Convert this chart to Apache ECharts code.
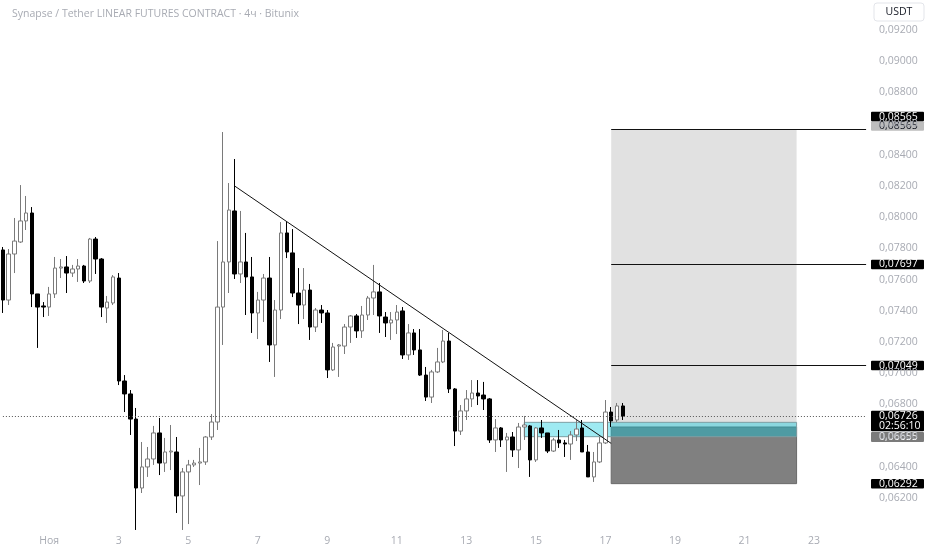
<!DOCTYPE html>
<html>
<head>
<meta charset="utf-8">
<title>SYN/USDT 4h</title>
<script src="https://cdn.jsdelivr.net/npm/echarts@6/dist/echarts.min.js"></script>
<style>
html, body { margin: 0; padding: 0; background: #ffffff; }
#main { width: 932px; height: 550px; }
</style>
</head>
<body>
<div id="main"></div>
<script>
// 4h candles, Oct 30 16:00 .. Nov 17 12:00
var opens = [0.07790,0.07469,0.07764,0.07841,0.07976,0.08027,0.07508,0.07431,0.07424,0.07508,
  0.07674,0.07681,0.07642,0.07668,0.07687,0.07591,0.07860,0.07732,0.07418,0.07450,
  0.07610,0.06950,0.06867,0.06706,0.06264,0.06399,0.06450,0.06617,0.06424,0.06495,
  0.06495,0.06213,0.06367,0.06412,0.06424,0.06431,0.06591,0.06687,0.07424,0.07713,
  0.08040,0.07636,0.07713,0.07617,0.07386,0.07469,0.07610,0.07181,0.07405,0.07899,
  0.07771,0.07514,0.07437,0.07533,0.07296,0.07405,0.07386,0.07021,0.07174,0.07174,
  0.07296,0.07367,0.07271,0.07373,0.07482,0.07521,0.07360,0.07322,0.07341,0.07399,
  0.07117,0.07258,0.07149,0.06988,0.06847,0.07008,0.07072,0.07206,0.06899,0.06629,
  0.06758,0.06835,0.06873,0.06860,0.06835,0.06572,0.06649,0.06572,0.06591,0.06508,
  0.06655,0.06662,0.06444,0.06649,0.06617,0.06501,0.06572,0.06553,0.06546,0.06604,
  0.06649,0.06495,0.06335,0.06431,0.06553,0.06751,0.06700,0.06790];
var closes = [0.07469,0.07764,0.07847,0.07976,0.08027,0.07508,0.07424,0.07424,0.07508,0.07674,
  0.07681,0.07642,0.07668,0.07687,0.07591,0.07860,0.07732,0.07424,0.07456,0.07617,
  0.06950,0.06867,0.06706,0.06264,0.06399,0.06450,0.06617,0.06424,0.06495,0.06501,
  0.06213,0.06367,0.06412,0.06424,0.06431,0.06591,0.06687,0.07424,0.07713,0.08046,
  0.07636,0.07713,0.07617,0.07386,0.07469,0.07610,0.07181,0.07405,0.07899,0.07777,
  0.07514,0.07437,0.07533,0.07296,0.07405,0.07386,0.07021,0.07168,0.07181,0.07296,
  0.07367,0.07271,0.07373,0.07482,0.07521,0.07367,0.07322,0.07341,0.07392,0.07117,
  0.07258,0.07149,0.06988,0.06847,0.07008,0.07072,0.07206,0.06899,0.06629,0.06758,
  0.06835,0.06873,0.06854,0.06835,0.06572,0.06649,0.06572,0.06591,0.06508,0.06655,
  0.06668,0.06444,0.06649,0.06617,0.06501,0.06572,0.06553,0.06546,0.06604,0.06642,
  0.06495,0.06335,0.06431,0.06553,0.06751,0.06694,0.06790,0.06726];
var lows = [0.07386,0.07437,0.07642,0.07835,0.07918,0.07424,0.07162,0.07360,0.07367,0.07482,
  0.07610,0.07514,0.07617,0.07585,0.07578,0.07578,0.07636,0.07360,0.07322,0.07437,
  0.06924,0.06751,0.06604,0.05995,0.06232,0.06335,0.06412,0.06347,0.06367,0.06379,
  0.06104,0.05995,0.06033,0.06399,0.06283,0.06412,0.06572,0.06636,0.07181,0.07514,
  0.07604,0.07578,0.07373,0.07258,0.07219,0.07328,0.07072,0.06976,0.07347,0.07738,
  0.07488,0.07315,0.07347,0.07213,0.07264,0.07322,0.06969,0.07014,0.06976,0.07123,
  0.07194,0.07226,0.07226,0.07341,0.07373,0.07258,0.07232,0.07213,0.07251,0.07091,
  0.07085,0.07117,0.06982,0.06822,0.06809,0.07001,0.07065,0.06873,0.06533,0.06604,
  0.06700,0.06783,0.06796,0.06764,0.06553,0.06495,0.06527,0.06367,0.06463,0.06392,
  0.06572,0.06335,0.06431,0.06585,0.06488,0.06495,0.06521,0.06463,0.06444,0.06565,
  0.06495,0.06335,0.06303,0.06424,0.06546,0.06655,0.06687,0.06700];
var highs = [0.07809,0.07796,0.07995,0.08206,0.08136,0.08065,0.07508,0.07456,0.07553,0.07745,
  0.07732,0.07751,0.07694,0.07732,0.07694,0.07867,0.07873,0.07738,0.07495,0.07629,
  0.07642,0.06988,0.06892,0.06777,0.06559,0.06527,0.06662,0.06713,0.06585,0.06668,
  0.06591,0.06392,0.06444,0.06444,0.06521,0.06597,0.06738,0.07847,0.08546,0.08219,
  0.08373,0.08040,0.07899,0.07745,0.07521,0.07636,0.07745,0.07469,0.07969,0.07969,
  0.07924,0.07674,0.07674,0.07572,0.07418,0.07437,0.07405,0.07194,0.07187,0.07315,
  0.07373,0.07379,0.07431,0.07495,0.07694,0.07578,0.07392,0.07392,0.07437,0.07424,
  0.07315,0.07283,0.07283,0.07040,0.07021,0.07162,0.07277,0.07258,0.06905,0.06796,
  0.06892,0.06956,0.06956,0.06944,0.06841,0.06706,0.06655,0.06617,0.06623,0.06681,
  0.06726,0.06668,0.06655,0.06700,0.06617,0.06585,0.06636,0.06572,0.06629,0.06700,
  0.06700,0.06540,0.06495,0.06591,0.06828,0.06783,0.06809,0.06809];

// position levels
var lastPrice = 0.06726;
var entryPrice = 0.06655;
var stopPrice = 0.06292;
var targets = [0.07049, 0.07697, 0.08565];
var zoneTop = 0.06685, zoneBottom = 0.06593;
var trendStart = [40, 0.0820], trendEnd = [105, 0.0655];

var tickDays = ['1.11 0', '3.11 0', '5.11 0', '7.11 0', '9.11 0', '11.11 0', '13.11 0',
  '15.11 0', '17.11 0', '19.11 0', '21.11 0', '23.11 0'];
var tickText = ['Ноя', '3', '5', '7', '9', '11', '13', '15', '17', '19', '21', '23'];

var categories = [];
var t0 = Date.UTC(2024, 9, 30, 16);
for (var i = 0; i < 150; i++) {
  var d = new Date(t0 + i * 4 * 3600 * 1000);
  categories.push(d.getUTCDate() + '.' + (d.getUTCMonth() + 1) + ' ' + d.getUTCHours());
}

var candles = [];
for (var k = 0; k < opens.length; k++) {
  candles.push([opens[k], closes[k], lows[k], highs[k]]);
}

var font = 'Open Sans';
function fmt(v) { return v.toFixed(5).replace('.', ','); }

var myChart = echarts.init(document.getElementById('main'));

var option = {
  animation: false,
  backgroundColor: '#ffffff',
  title: {
    text: 'Synapse / Tether LINEAR FUTURES CONTRACT · 4ч · Bitunix',
    left: 7, top: 4,
    textStyle: { fontSize: 10.5, fontWeight: 'normal', color: '#a8abb3', fontFamily: font }
  },
  grid: { left: -1.5, right: 63, top: 0, bottom: 17 },
  xAxis: {
    type: 'category',
    data: categories,
    boundaryGap: true,
    axisLine: { show: false },
    axisTick: { show: false },
    splitLine: { show: false },
    axisLabel: {
      color: '#a8abb3', fontSize: 10.5, fontFamily: font, margin: 3,
      hideOverlap: false,
      interval: function (idx, val) { return tickDays.indexOf(val) >= 0; },
      formatter: function (val) {
        var p = tickDays.indexOf(val);
        return p >= 0 ? tickText[p] : '';
      }
    }
  },
  yAxis: {
    type: 'value',
    position: 'right',
    min: 0.059756,
    max: 0.093923,
    splitNumber: 17,
    scale: true,
    axisLine: { show: false },
    axisTick: { show: false },
    splitLine: { show: false },
    axisLabel: {
      color: '#a8abb3', fontSize: 10.5, fontFamily: font, margin: 10, align: 'left',
      showMinLabel: false, showMaxLabel: false,
      formatter: function (v) {
        if (v < 0.0615 || v > 0.0925) return '';
        return fmt(v);
      }
    }
  },
  series: [
    {
      name: 'zones',
      type: 'line',
      data: [],
      silent: true,
      z: 1,
      markArea: {
        silent: true,
        data: [
          [{ coord: [105, targets[2]], itemStyle: { color: '#e1e1e1' } }, { coord: [137, entryPrice] }],
          [{ coord: [105, entryPrice], itemStyle: { color: '#808080', borderColor: '#6a6a6a', borderWidth: 1 } }, { coord: [137, stopPrice] }],
          [{ coord: [90, zoneTop], itemStyle: { color: 'rgba(0,200,222,0.38)', borderColor: '#7d9ea3', borderWidth: 1 } }, { coord: [137, zoneBottom] }]
        ]
      }
    },
    {
      name: 'SYN/USDT',
      type: 'candlestick',
      data: candles,
      barWidth: 4,
      z: 2,
      itemStyle: {
        color: '#ffffff',
        color0: '#000000',
        borderColor: '#7a7a7a',
        borderColor0: '#000000',
        borderWidth: 1
      },
      markLine: {
        silent: true,
        symbol: 'none',
        label: { show: false },
        lineStyle: { color: '#111111', width: 1, type: 'solid' },
        data: [
          [{ coord: trendStart }, { coord: trendEnd }],
          [{ coord: [105, targets[0]] }, { coord: [149, targets[0]] }],
          [{ coord: [105, targets[1]] }, { coord: [149, targets[1]] }],
          [{ coord: [105, targets[2]] }, { coord: [149, targets[2]] }],
          [{ coord: [0, lastPrice], lineStyle: { type: [1, 2], color: '#555555' } }, { coord: [149, lastPrice] }]
        ]
      }
    }
  ]
};

myChart.setOption(option);

function tag(v, dy, h, bg, fg, text) {
  var y = myChart.convertToPixel({ yAxisIndex: 0 }, v) + dy;
  return {
    type: 'group',
    z: 100,
    children: [
      { type: 'rect', shape: { x: 871, y: y - h / 2, width: 53, height: h, r: 1 }, style: { fill: bg } },
      {
        type: 'text', x: 879, y: y,
        style: { text: text, fill: fg, font: '10.5px "' + font + '"', verticalAlign: 'middle', lineHeight: 10 }
      }
    ]
  };
}

var graphics = [
  {
    type: 'group', z: 100,
    children: [
      { type: 'rect', shape: { x: 874, y: 3, width: 50, height: 18, r: 3 }, style: { fill: '#ffffff', stroke: '#e3e5ea', lineWidth: 1 } },
      { type: 'text', x: 899, y: 12, style: { text: 'USDT', fill: '#131722', font: '10.5px "' + font + '"', align: 'center', verticalAlign: 'middle' } }
    ]
  },
  tag(targets[2], -3, 9.5, '#bdbdbd', '#131722', fmt(targets[2])),
  tag(targets[2], -12.5, 9.5, '#000000', '#ffffff', fmt(targets[2])),
  tag(targets[1], 0, 9.5, '#000000', '#ffffff', fmt(targets[1])),
  tag(targets[0], 0, 9.5, '#000000', '#ffffff', fmt(targets[0])),
  tag(lastPrice, 5, 20.5, '#000000', '#ffffff', fmt(lastPrice) + '\n02:56:10'),
  tag(entryPrice, 10, 10, '#7b7b7b', '#ffffff', fmt(entryPrice)),
  tag(stopPrice, 0, 9.5, '#000000', '#ffffff', fmt(stopPrice))
];

myChart.setOption({ graphic: graphics });
</script>
</body>
</html>
